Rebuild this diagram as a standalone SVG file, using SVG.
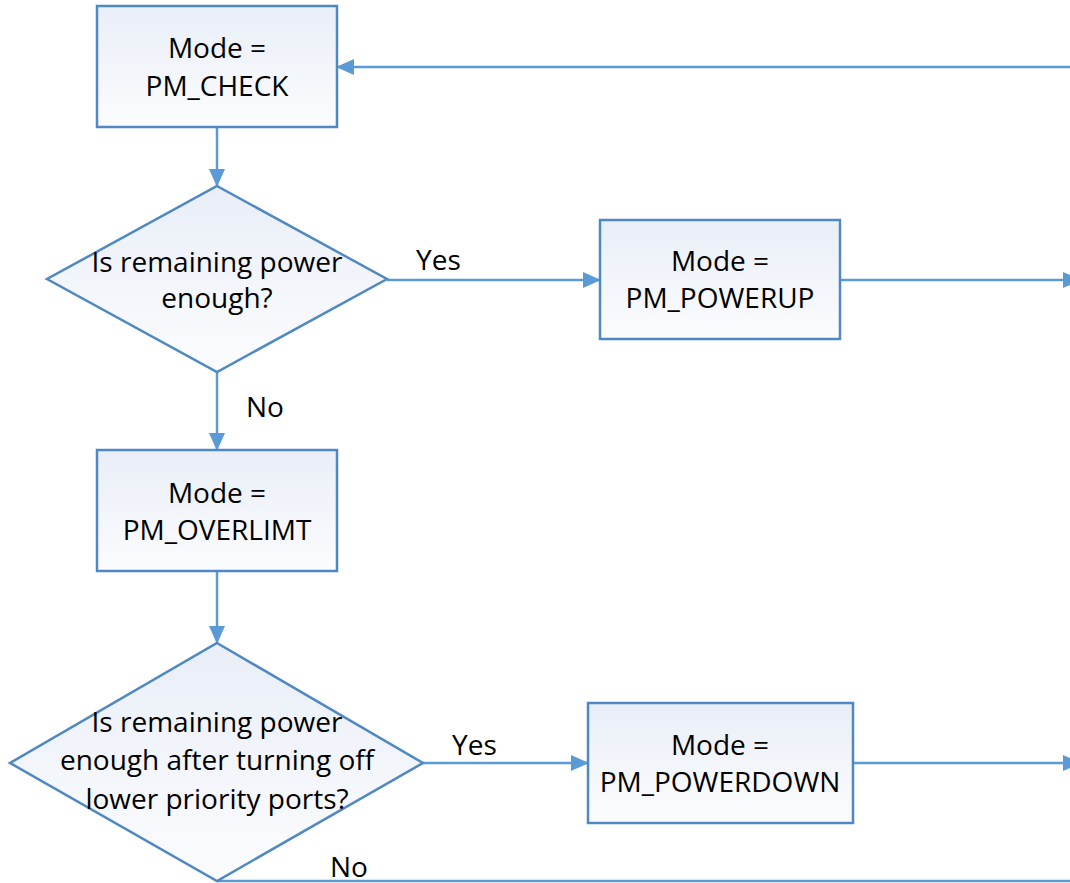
<svg xmlns="http://www.w3.org/2000/svg" width="1070" height="883" viewBox="0 0 1070 883">
<defs>
<linearGradient id="g" x1="0" y1="0" x2="0" y2="1">
<stop offset="0" stop-color="#e9eef7"/>
<stop offset="1" stop-color="#fbfcfe"/>
</linearGradient>
<marker id="ahb" markerWidth="18" markerHeight="18" refX="17" refY="9" orient="auto" markerUnits="userSpaceOnUse" viewBox="0 0 18 18">
<path d="M0,1 L18,9 L0,17 z" fill="#5b9bd5"/>
</marker>
<style>
.n{fill:url(#g);stroke:#4f88c3;stroke-width:2.5}
.t{font-family:"Open Sans","Noto Sans","Liberation Sans",sans-serif;font-size:28px;fill:#000;text-anchor:middle}
.l{font-family:"Open Sans","Noto Sans","Liberation Sans",sans-serif;font-size:28px;fill:#000}
.c{fill:none;stroke:#5b9bd5;stroke-width:2.5}
</style>
</defs>
<rect width="1070" height="883" fill="#fff"/>
<g id="connectors">
<path class="c" d="M217,127 V186" marker-end="url(#ahb)"/>
<path class="c" d="M387,280 H600" marker-end="url(#ahb)"/>
<path class="c" d="M840,280 H1080" marker-end="url(#ahb)"/>
<path class="c" d="M1070,67 H337" marker-end="url(#ahb)"/>
<path class="c" d="M217,372 V450" marker-end="url(#ahb)"/>
<path class="c" d="M217,571 V643" marker-end="url(#ahb)"/>
<path class="c" d="M423,763 H588" marker-end="url(#ahb)"/>
<path class="c" d="M853,763 H1080" marker-end="url(#ahb)"/>
<path class="c" d="M217,881 H1070"/>
<text class="l" x="416" y="270">Yes</text>
<text class="l" x="246" y="417">No</text>
<text class="l" x="452" y="755">Yes</text>
<text class="l" x="330" y="877">No</text>
</g>
<g id="n1">
<rect class="n" x="97" y="6" width="240" height="121"/>
<text class="t" x="217" y="58">Mode =</text>
<text class="t" x="217" y="96">PM_CHECK</text>
</g>
<g id="n2">
<polygon class="n" points="217,186 387,279 217,372 47,279"/>
<text class="t" x="217" y="272">Is remaining power</text>
<text class="t" x="217" y="308">enough?</text>
</g>
<g id="n3">
<rect class="n" x="600" y="220" width="240" height="119"/>
<text class="t" x="720" y="271">Mode =</text>
<text class="t" x="720" y="308">PM_POWERUP</text>
</g>
<g id="n4">
<rect class="n" x="97" y="450" width="240" height="121"/>
<text class="t" x="217" y="503">Mode =</text>
<text class="t" x="217" y="540">PM_OVERLIMT</text>
</g>
<g id="n5">
<polygon class="n" points="217,643 423,763 217,881 10,763"/>
<text class="t" x="217" y="732">Is remaining power</text>
<text class="t" x="217" y="770">enough after turning off</text>
<text class="t" x="217" y="809">lower priority ports?</text>
</g>
<g id="n6">
<rect class="n" x="588" y="703" width="265" height="120"/>
<text class="t" x="720" y="755">Mode =</text>
<text class="t" x="720" y="792">PM_POWERDOWN</text>
</g>
</svg>
